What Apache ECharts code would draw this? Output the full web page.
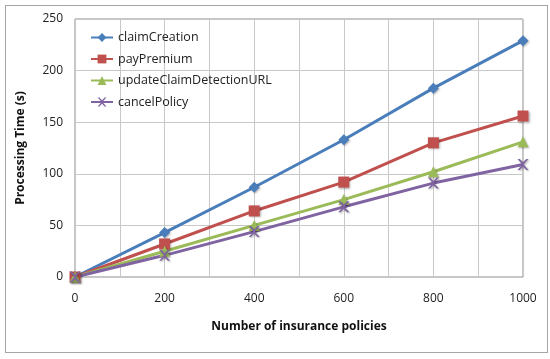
<!DOCTYPE html>
<html><head><meta charset="utf-8">
<script src="https://cdn.jsdelivr.net/npm/echarts@6/dist/echarts.min.js"></script>
<style>html,body{margin:0;padding:0;background:#fff}#c{width:550px;height:359px}
#frame{position:absolute;left:5px;top:5px;width:541px;height:346px;border:1px solid #a6a6a6;pointer-events:none}</style>
</head><body><div id="c"></div><div id="frame"></div>
<script>
const xValues = [0, 200, 400, 600, 800, 1000];
const claimCreation = [0, 43, 87, 133, 183, 229];
const payPremium = [0, 32, 64, 92, 130, 156];
const updateClaimDetectionURL = [0, 25, 50, 75, 102, 131];
const cancelPolicy = [0, 21, 44, 68, 91, 109];
const seriesNames = ['claimCreation', 'payPremium', 'updateClaimDetectionURL', 'cancelPolicy'];

const xShape = 'path://M0,0 L2,0 L5,3 L8,0 L10,0 L6,4.5 L6,5.5 L10,10 L8,10 L5,7 L2,10 L0,10 L4,5.5 L4,4.5 Z';
const pair = arr => xValues.map((x, i) => [x, arr[i]]);
const font = '"Open Sans", "Noto Sans", sans-serif';
function mk(name, data, color, symbol, size) {
  return {
    name, type: 'line', data: pair(data), symbol, symbolSize: size,
    lineStyle: { color, width: 3 }, itemStyle: { color, shadowBlur: 2, shadowColor: 'rgba(0,0,0,0.3)', shadowOffsetX: 1, shadowOffsetY: 1 },
    emphasis: { disabled: true }, z: 2
  };
}
const chart = echarts.init(document.getElementById('c'));
chart.setOption({
  animation: false,
  textStyle: { fontFamily: font },
  grid: { left: 75, right: 27, top: 19, bottom: 82, show: true, borderColor: '#8c8c8c', borderWidth: 1 },
  legend: {
    left: 85, top: 26, orient: 'vertical', itemGap: 8.5, itemWidth: 22, itemHeight: 11,
    textStyle: { fontSize: 12.5, color: '#222', fontFamily: font },
    data: seriesNames
  },
  xAxis: {
    type: 'value', min: 0, max: 1000, interval: 100,
    name: 'Number of insurance policies', nameLocation: 'middle', nameGap: 44,
    nameTextStyle: { fontWeight: 'bold', fontSize: 12, color: '#111', fontFamily: font },
    axisLine: { show: false }, axisTick: { show: false },
    axisLabel: { margin: 16, fontSize: 12, color: '#222', formatter: v => (v % 200 === 0 ? String(v) : '') },
    splitLine: { show: true, lineStyle: { color: '#c8c8c8', width: 1 } }
  },
  yAxis: {
    type: 'value', min: 0, max: 250, interval: 50,
    name: 'Processing Time (s)', nameLocation: 'middle', nameGap: 48,
    nameTextStyle: { fontWeight: 'bold', fontSize: 12, color: '#111', fontFamily: font },
    axisLine: { show: false }, axisTick: { show: false },
    axisLabel: { margin: 12, fontSize: 12, color: '#222' },
    splitLine: { show: true, lineStyle: { color: '#c8c8c8', width: 1 } }
  },
  series: [
    mk('claimCreation', claimCreation, '#4a7ebb', 'diamond', 11),
    mk('payPremium', payPremium, '#c0504d', 'rect', 11),
    mk('updateClaimDetectionURL', updateClaimDetectionURL, '#9bbb59', 'triangle', 11),
    mk('cancelPolicy', cancelPolicy, '#8064a2', xShape, 11)
  ]
});
</script></body></html>
